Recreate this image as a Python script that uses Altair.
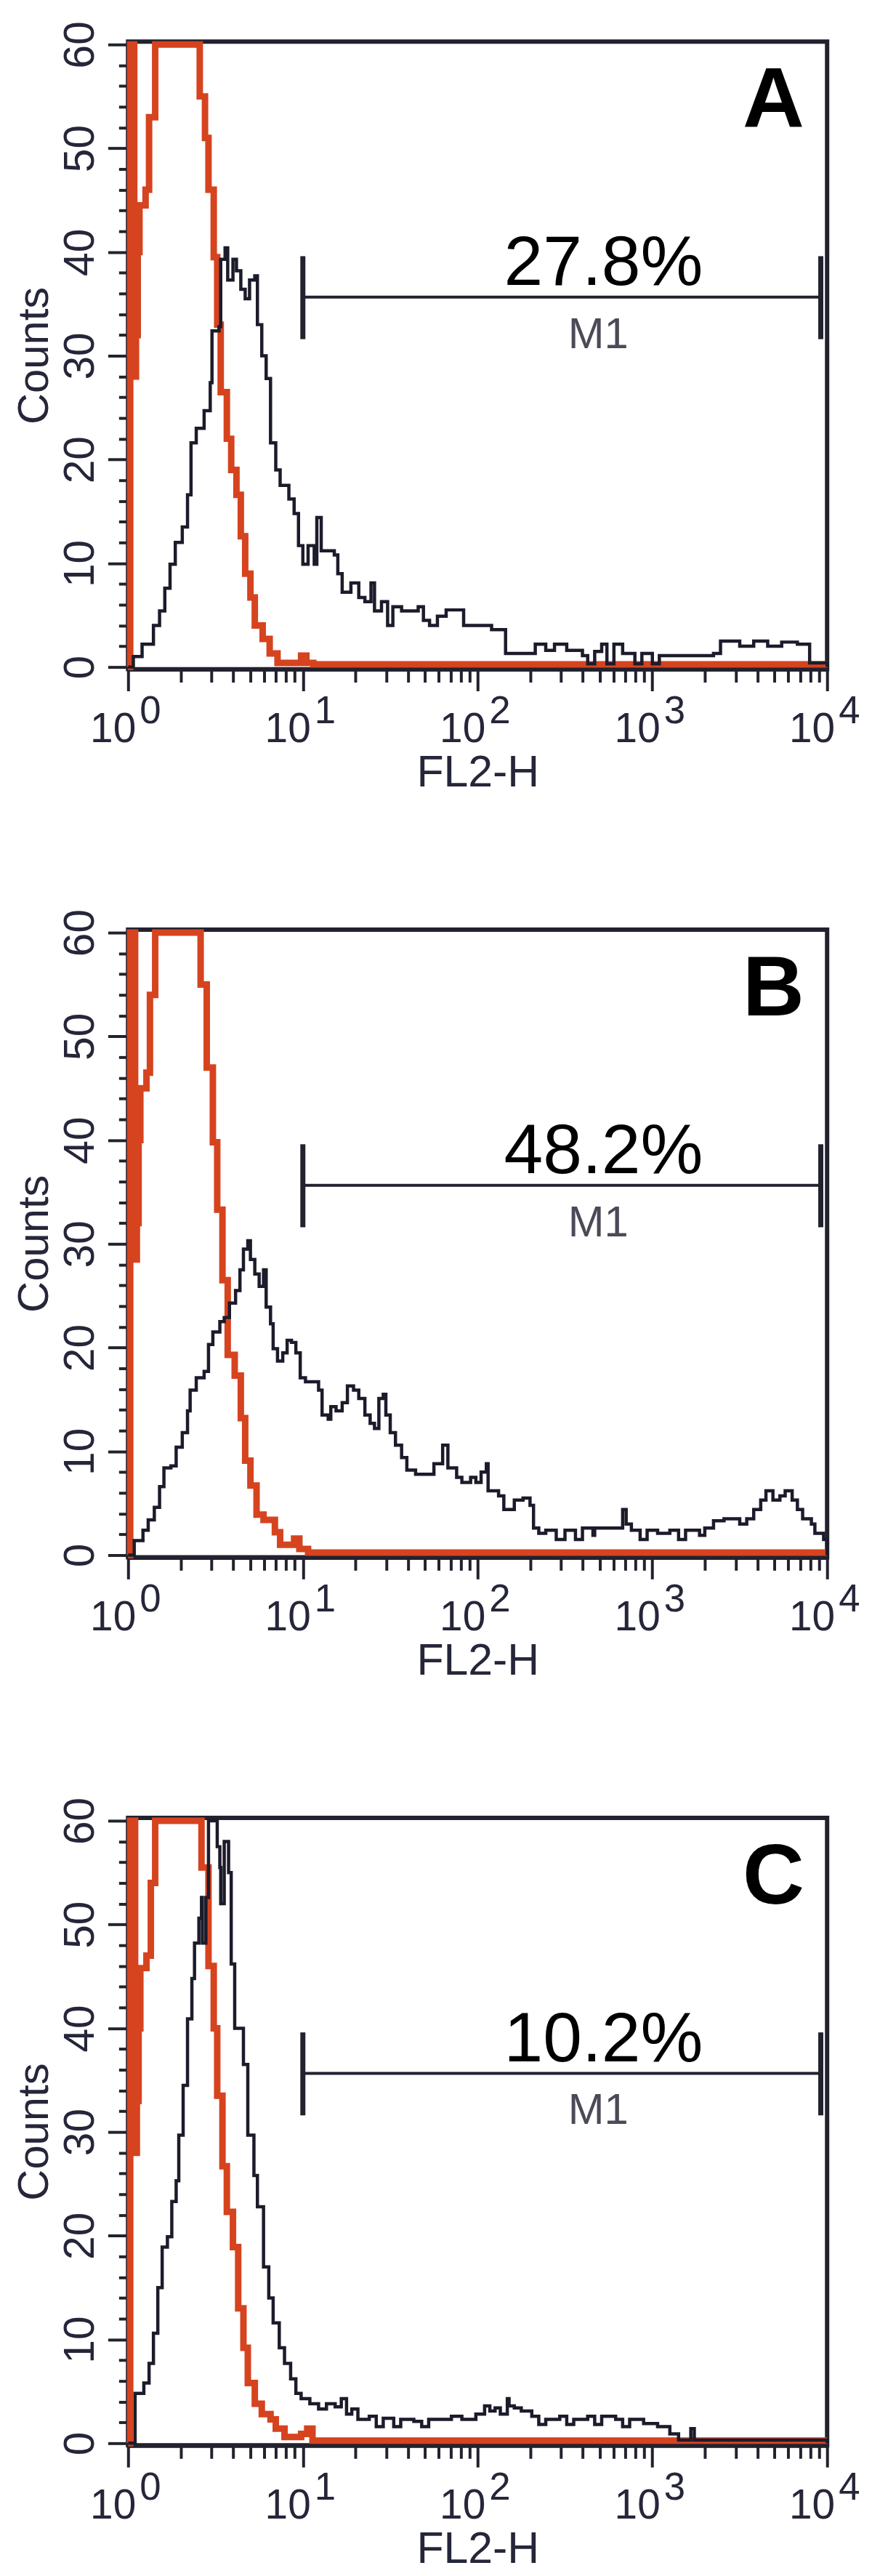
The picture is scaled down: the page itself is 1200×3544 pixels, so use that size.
import altair as alt
import pandas as pd

# ---------------- data (log10 FL2-H where each histogram step starts, counts) ----------------
A_red = [(0.0, 0), (0.012, 60), (0.035, 28), (0.045, 32), (0.055, 40), (0.065, 44.5), (0.10, 46),
         (0.12, 53), (0.155, 60), (0.41, 55), (0.44, 51), (0.46, 46), (0.49, 39.5), (0.51, 33),
         (0.53, 26.5), (0.565, 22), (0.59, 19), (0.62, 16.6), (0.645, 12.6), (0.67, 9), (0.70, 6.7),
         (0.725, 4), (0.77, 2.7), (0.81, 1.3), (0.855, 0.4), (0.99, 1.1), (1.02, 0.4), (1.06, 0.25),
         (4.0, 0.25)]
A_black = [(0.0, 0), (0.03, 1), (0.08, 2.2), (0.145, 4), (0.18, 5.4), (0.21, 7.6), (0.24, 9.9),
           (0.27, 12), (0.31, 13.5), (0.34, 16.6), (0.36, 21.6), (0.39, 23), (0.435, 24.7),
           (0.47, 27.4), (0.48, 32.4), (0.52, 32.8), (0.53, 39.3), (0.555, 40.4), (0.57, 37.3),
           (0.60, 39.3), (0.62, 38.2), (0.645, 36.4), (0.67, 35.5), (0.695, 37.3), (0.725, 37.7),
           (0.74, 33), (0.765, 30), (0.79, 27.8), (0.815, 21.6), (0.845, 19), (0.87, 17.5),
           (0.92, 16.2), (0.95, 14.8), (0.975, 11.7), (1.0, 9.9), (1.03, 11.7), (1.065, 9.9),
           (1.08, 14.4), (1.105, 11.2), (1.18, 10.8), (1.2, 9), (1.225, 7.2), (1.275, 8.1),
           (1.32, 6.7), (1.355, 6.3), (1.39, 8.1), (1.41, 5.4), (1.45, 6.3), (1.485, 4),
           (1.515, 5.8), (1.565, 5.4), (1.66, 5.8), (1.69, 4.5), (1.725, 4), (1.77, 4.9),
           (1.82, 5.5), (1.92, 4), (2.08, 3.6), (2.16, 1.3), (2.33, 2.2), (2.39, 1.6), (2.44, 2.2),
           (2.51, 1.6), (2.6, 1.1), (2.63, 0.3), (2.67, 1.5), (2.71, 2.2), (2.74, 0.3), (2.78, 2.2),
           (2.83, 1.3), (2.9, 0.3), (2.94, 1.3), (3.0, 0.3), (3.04, 1.1), (3.35, 1.3), (3.39, 2.5),
           (3.5, 2), (3.58, 2.5), (3.66, 2), (3.74, 2.4), (3.83, 2.2), (3.9, 0.4), (4.0, 0)]

B_red = [(0.0, 0), (0.012, 60), (0.04, 28.5), (0.05, 32), (0.06, 40), (0.07, 45), (0.105, 46.5),
         (0.125, 54), (0.155, 60), (0.415, 55), (0.45, 47), (0.485, 39.8), (0.51, 33.3),
         (0.54, 26.5), (0.57, 19.3), (0.61, 17.3), (0.645, 13.2), (0.67, 9.1), (0.70, 6.7),
         (0.735, 3.9), (0.775, 3.4), (0.84, 2.2), (0.87, 1.0), (0.95, 1.6), (0.98, 0.6),
         (1.03, 0.25), (4.0, 0.25)]
B_black = [(0.0, 0), (0.035, 1.4), (0.085, 2.4), (0.115, 3.4), (0.15, 4.6), (0.18, 6.6),
           (0.205, 8.4), (0.245, 8.6), (0.275, 10.4), (0.31, 11.8), (0.34, 13.9), (0.355, 15.9),
           (0.39, 17.1), (0.435, 17.7), (0.46, 20.3), (0.485, 21.5), (0.525, 22.5), (0.55, 22.9),
           (0.58, 24.3), (0.615, 25.5), (0.64, 27.5), (0.66, 29.5), (0.685, 30.3), (0.70, 28.5),
           (0.725, 27.1), (0.75, 25.9), (0.775, 27.5), (0.79, 23.9), (0.815, 22.3), (0.83, 19.9),
           (0.855, 18.7), (0.885, 19.5), (0.91, 20.7), (0.935, 20.5), (0.96, 19.5), (0.985, 17.1),
           (1.015, 16.7), (1.09, 15.9), (1.11, 13.5), (1.145, 13.1), (1.16, 14.3), (1.19, 13.9),
           (1.225, 14.7), (1.255, 16.3), (1.29, 15.9), (1.32, 15.1), (1.355, 13.5), (1.385, 12.7),
           (1.41, 12.2), (1.435, 15.1), (1.46, 15.5), (1.475, 13.5), (1.5, 11.8), (1.53, 10.6),
           (1.565, 9.4), (1.595, 8.2), (1.645, 7.8), (1.75, 8.8), (1.80, 10.6), (1.83, 8.4),
           (1.88, 7.5), (1.91, 7), (1.96, 7.5), (1.99, 7), (2.02, 8), (2.05, 8.8), (2.06, 6.2),
           (2.12, 5.7), (2.15, 4.4), (2.21, 5.3), (2.26, 5.5), (2.30, 4.8), (2.32, 2.6),
           (2.35, 2.1), (2.39, 2.4), (2.45, 1.5), (2.5, 2.4), (2.56, 1.5), (2.6, 2.6), (2.66, 1.9),
           (2.67, 2.6), (2.80, 2.6), (2.83, 4.4), (2.85, 3.0), (2.88, 2.4), (2.93, 1.5), (2.97, 2.4),
           (3.03, 2.1), (3.10, 2.4), (3.15, 1.5), (3.19, 2.4), (3.27, 1.9), (3.30, 2.6), (3.35, 3.3),
           (3.41, 3.5), (3.50, 3.0), (3.54, 3.5), (3.58, 4.4), (3.62, 5.3), (3.65, 6.2), (3.69, 5.3),
           (3.73, 5.7), (3.76, 6.2), (3.80, 5.3), (3.83, 4.4), (3.86, 3.5), (3.91, 3.0), (3.93, 2.1),
           (3.98, 1.5), (4.0, 0)]

C_red = [(0.0, 0), (0.012, 60), (0.04, 28), (0.05, 33), (0.06, 40), (0.07, 45.8), (0.105, 47),
         (0.13, 54), (0.155, 60), (0.42, 55.5), (0.46, 46), (0.49, 40), (0.51, 33.5), (0.54, 26.7),
         (0.565, 22.3), (0.60, 18.9), (0.63, 13), (0.66, 9.2), (0.685, 5.8), (0.725, 3.8),
         (0.765, 2.8), (0.815, 2.3), (0.845, 1.4), (0.895, 0.6), (0.99, 0.9), (1.025, 1.4),
         (1.055, 0.25), (4.0, 0.25)]
C_black = [(0.0, 0), (0.04, 4.8), (0.09, 5.8), (0.12, 7.7), (0.145, 10.6), (0.17, 15), (0.195, 18.9),
           (0.225, 19.9), (0.25, 23.3), (0.275, 25.3), (0.29, 29.7), (0.315, 34.5), (0.34, 40.9),
           (0.365, 44.8), (0.38, 48.2), (0.405, 50.6), (0.42, 52.6), (0.425, 48.2), (0.445, 52.6),
           (0.46, 60), (0.51, 57.5), (0.525, 55.5), (0.53, 52), (0.55, 58), (0.575, 55), (0.59, 46.2),
           (0.61, 40), (0.66, 36.5), (0.685, 29.7), (0.72, 25.8), (0.74, 22.8), (0.775, 17),
           (0.805, 14), (0.83, 11.6), (0.865, 9.2), (0.895, 7.7), (0.93, 6.2), (0.96, 4.8),
           (0.99, 4.3), (1.04, 3.8), (1.09, 3.3), (1.135, 3.8), (1.185, 3.5), (1.22, 4.3),
           (1.25, 2.8), (1.28, 3.3), (1.315, 2.3), (1.38, 2.6), (1.42, 1.6), (1.46, 2.4), (1.52, 1.6),
           (1.56, 2.3), (1.635, 2.1), (1.68, 1.6), (1.72, 2.3), (1.85, 2.6), (1.91, 2.3), (1.99, 2.8),
           (2.04, 3.6), (2.07, 3.1), (2.10, 3.4), (2.13, 2.8), (2.17, 4.3), (2.18, 3.6), (2.21, 3.4),
           (2.25, 3.1), (2.31, 2.6), (2.35, 1.8), (2.39, 2.3), (2.47, 2.6), (2.51, 1.8), (2.55, 2.3),
           (2.63, 2.6), (2.67, 1.8), (2.71, 2.6), (2.79, 2.3), (2.83, 1.6), (2.87, 2.3), (2.95, 1.9),
           (3.03, 1.6), (3.10, 0.9), (3.15, 0.3), (3.22, 1.4), (3.24, 0.3), (4.0, 0)]

PANEL_LETTERS = ["A", "B", "C"]
PANEL_PERCENTS = ["27.8%", "48.2%", "10.2%"]

X_MAJOR = [1, 10, 100, 1000, 10000]
X_EXPONENTS = ["0", "1", "2", "3", "4"]
X_MINOR = [2, 3, 4, 5, 6, 7, 8, 9, 20, 30, 40, 50, 60, 70, 80, 90,
           200, 300, 400, 500, 600, 700, 800, 900, 2000, 3000, 4000, 5000, 6000, 7000, 8000, 9000]
Y_MAJOR = [0, 10, 20, 30, 40, 50, 60]
Y_MINOR = [2, 4, 6, 8, 12, 14, 16, 18, 22, 24, 26, 28, 32, 34, 36, 38, 42, 44, 46, 48, 52, 54, 56, 58]

# marker M1 gate
M1_RANGE = [10, 9200]
M1_LEVEL = 35.65
M1_BAR = [31.6, 39.6]
M1_LABEL_POS = (490, 30.75)
PERCENT_POS = (525, 36.8)
LETTER_POS = (7400, 52.0)

# ---------------- style ----------------
RED = "#d6431f"
BLACK = "#1b1b2b"
AXIS = "#22222f"
TXT = "#26263a"
FONT = "Liberation Sans"
W, H = 966, 867
YDOM = [-0.21, 60.28]


def panel(red_pts, blk_pts, letter, pct):
    red = pd.DataFrame({"x": [10 ** d for d, _ in red_pts], "y": [c for _, c in red_pts],
                        "i": list(range(len(red_pts)))})
    blk = pd.DataFrame({"x": [10 ** d for d, _ in blk_pts], "y": [c for _, c in blk_pts],
                        "i": list(range(len(blk_pts)))})
    xs = alt.Scale(type="log", domain=[1, 10000], nice=False)
    ys = alt.Scale(domain=YDOM, nice=False, zero=False)

    major_x = alt.Axis(orient="bottom", values=X_MAJOR, tickSize=30, labels=False, grid=False,
                       title="FL2-H", titleX=W / 2, titleY=162, titleAlign="center",
                       titleBaseline="alphabetic", titleAngle=0, titleFontSize=61, titleFont=FONT,
                       titleFontWeight="normal", titleColor=TXT)
    major_y = alt.Axis(orient="left", values=Y_MAJOR, tickSize=28, grid=False, labelAngle=270,
                       labelAlign="center", labelBaseline="alphabetic", labelPadding=20,
                       labelFontSize=59, labelFont=FONT, labelColor=TXT, labelFlush=False,
                       labelOverlap=False, labelBound=False, title="Counts", titleAngle=270,
                       titleX=-111, titleY=H / 2, titleAlign="center", titleBaseline="alphabetic",
                       titleFontSize=60, titleFont=FONT, titleFontWeight="normal", titleColor=TXT)
    minor_x = alt.Axis(orient="bottom", values=X_MINOR, tickSize=18, labels=False, domain=False,
                       grid=False, title="")
    minor_y = alt.Axis(orient="left", values=Y_MINOR, tickSize=13, labels=False, domain=False,
                       grid=False, title="")

    red_line = alt.Chart(red).mark_line(interpolate="step-after", color=RED, strokeWidth=9,
                                        strokeJoin="miter").encode(
        x=alt.X("x:Q", scale=xs, axis=major_x),
        y=alt.Y("y:Q", scale=ys, axis=major_y),
        order="i:Q")
    blk_line = alt.Chart(blk).mark_line(interpolate="step-after", color=BLACK, strokeWidth=4.5,
                                        strokeJoin="miter").encode(
        x=alt.X("x:Q", scale=xs, axis=minor_x),
        y=alt.Y("y:Q", scale=ys, axis=minor_y),
        order="i:Q")

    m1 = pd.DataFrame({"x1": [M1_RANGE[0]], "x2": [M1_RANGE[1]], "y": [M1_LEVEL]})
    hrule = alt.Chart(m1).mark_rule(color=AXIS, strokeWidth=4).encode(
        x=alt.X("x1:Q", scale=xs, axis=None), x2="x2:Q",
        y=alt.Y("y:Q", scale=ys, axis=None))
    ends = pd.DataFrame({"x": M1_RANGE, "y1": [M1_BAR[0]] * 2, "y2": [M1_BAR[1]] * 2})
    vrule = alt.Chart(ends).mark_rule(color=AXIS, strokeWidth=7).encode(
        x=alt.X("x:Q", scale=xs, axis=None),
        y=alt.Y("y1:Q", scale=ys, axis=None), y2="y2:Q")

    lbl = pd.DataFrame({"x": [M1_LABEL_POS[0]], "y": [M1_LABEL_POS[1]], "t": ["M1"]})
    m1_text = alt.Chart(lbl).mark_text(align="center", baseline="alphabetic", fontSize=60,
                                       font=FONT, color="#4a4a58").encode(
        x=alt.X("x:Q", scale=xs, axis=None), y=alt.Y("y:Q", scale=ys, axis=None), text="t:N")

    pc = pd.DataFrame({"x": [PERCENT_POS[0]], "y": [PERCENT_POS[1]], "t": [pct]})
    pct_text = alt.Chart(pc).mark_text(align="center", baseline="alphabetic", fontSize=97,
                                       font=FONT, color="black").encode(
        x=alt.X("x:Q", scale=xs, axis=None), y=alt.Y("y:Q", scale=ys, axis=None), text="t:N")

    lt = pd.DataFrame({"x": [LETTER_POS[0]], "y": [LETTER_POS[1]], "t": [letter]})
    let_text = alt.Chart(lt).mark_text(align="right", baseline="alphabetic", fontSize=118,
                                       fontWeight="bold", font=FONT, color="black").encode(
        x=alt.X("x:Q", scale=xs, axis=None), y=alt.Y("y:Q", scale=ys, axis=None), text="t:N")

    xl = pd.DataFrame({"x": X_MAJOR, "e": X_EXPONENTS})
    ten = alt.Chart(xl).mark_text(align="right", baseline="alphabetic", dx=11, fontSize=57,
                                  font=FONT, color=TXT).encode(
        x=alt.X("x:Q", scale=xs, axis=None), y=alt.value(H + 101), text=alt.value("10"))
    sup = alt.Chart(xl).mark_text(align="left", baseline="alphabetic", dx=16, fontSize=53,
                                  font=FONT, color=TXT).encode(
        x=alt.X("x:Q", scale=xs, axis=None), y=alt.value(H + 75), text="e:N")

    return alt.layer(red_line, blk_line, hrule, vrule, m1_text, pct_text, let_text, ten, sup
                     ).resolve_axis(x="independent", y="independent").properties(width=W, height=H)


chart = alt.vconcat(
    panel(A_red, A_black, PANEL_LETTERS[0], PANEL_PERCENTS[0]),
    panel(B_red, B_black, PANEL_LETTERS[1], PANEL_PERCENTS[1]),
    panel(C_red, C_black, PANEL_LETTERS[2], PANEL_PERCENTS[2]),
    spacing=360, bounds="flush",
).properties(
    padding={"left": 7, "top": 10, "right": 5, "bottom": 0},
    background="white",
).configure_view(
    stroke=AXIS, strokeWidth=6, fill="white"
).configure_axis(
    domainColor=AXIS, domainWidth=6, tickColor=AXIS, tickWidth=4
)

chart.save("out.html", embed_options={"renderer": "svg", "actions": False})
